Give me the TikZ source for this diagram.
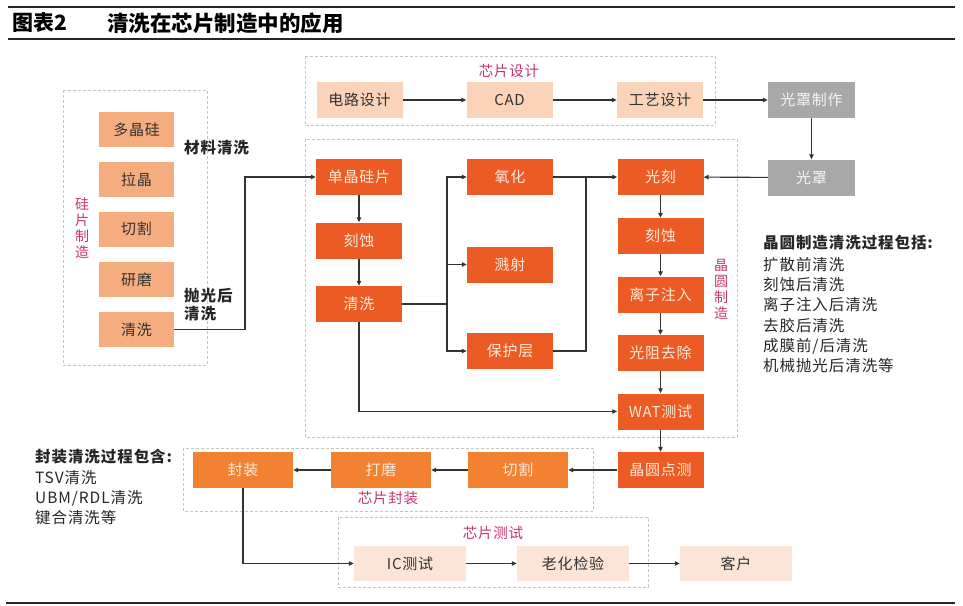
\documentclass[tikz,border=0pt]{standalone}
\usepackage{fontspec}
\setmainfont{Noto Sans CJK SC}
\newfontfamily\spaced[LetterSpace=5]{Noto Sans CJK SC}
\newfontfamily\spacedl[LetterSpace=6]{Noto Sans CJK SC}
\usetikzlibrary{arrows.meta}
\definecolor{lor}{HTML}{F5AD80}
\definecolor{pch}{HTML}{FAD3B9}
\definecolor{org}{HTML}{EC5B24}
\definecolor{yor}{HTML}{F28232}
\definecolor{gry}{HTML}{A8A8A8}
\definecolor{wpc}{HTML}{FCE4D6}
\definecolor{pnk}{HTML}{C8336E}
\definecolor{dsh}{HTML}{C4C4C4}
\definecolor{ink}{HTML}{333333}
\definecolor{crm}{HTML}{FDE9D9}
\begin{document}
\begin{tikzpicture}[x=1pt,y=-1pt,
  font=\spaced\fontsize{15}{18}\selectfont,
  bx/.style={inner sep=0pt, draw=none},
  lbox/.style={bx, fill=lor, text=ink, minimum width=75pt, minimum height=35pt},
  pbox/.style={bx, fill=pch, text=ink, minimum width=86pt, minimum height=36pt},
  obox/.style={bx, fill=org, text=crm, minimum width=86pt, minimum height=36pt},
  gbox/.style={bx, fill=gry, text=white!92!gray, minimum width=87pt, minimum height=36pt},
  ybox/.style={bx, fill=yor, text=crm, minimum width=100pt, minimum height=36pt},
  wbox/.style={bx, fill=wpc, text=ink, minimum width=112pt, minimum height=35pt},
  grp/.style={draw=dsh, dash pattern=on 3pt off 2pt, line width=0.8pt},
  lbl/.style={text=pnk, inner sep=0pt, font=\spaced\fontsize{14.5}{16}\selectfont},
  vlbl/.style={lbl, align=center, font=\spaced\fontsize{14}{16}\selectfont},
  cn/.style={draw=ink, line width=1.1pt},
  arr/.style={cn, -{Triangle[length=5pt,width=4.5pt]}},
  note/.style={anchor=west, inner sep=0pt, text=black!85, font=\spacedl\fontsize{15.5}{18}\selectfont},
  bnote/.style={note, font=\spacedl\fontsize{15.5}{18}\selectfont\bfseries}
]
\useasboundingbox (0,0) rectangle (963,605);
% rules and title
\draw[line width=1.5pt, black!85] (8,7) -- (955,7);
\draw[line width=1.5pt, black!85] (8,39) -- (955,39);
\draw[line width=2.5pt, black!85] (6,603) -- (955,603);
\node[anchor=west, inner sep=0pt, font=\fontsize{21}{24}\selectfont\bfseries] (t1) at (12,23) {图表2};
\node[anchor=west, inner sep=0pt, font=\fontsize{21.5}{24}\selectfont\bfseries] (t2) at (107,23) {清洗在芯片制造中的应用};

% group frames
\draw[grp] (63,90) rectangle (207,365);
\draw[grp] (305,56) rectangle (715,125);
\draw[grp] (305,139) rectangle (737,437);
\draw[grp] (183,448) rectangle (593,511);
\draw[grp] (338,517) rectangle (648,587);

% group labels
\node[vlbl] (gl1) at (82,228) {硅\\片\\制\\造};
\node[lbl] (gl2) at (509,71) {芯片设计};
\node[vlbl] (gl3) at (721,289) {晶\\圆\\制\\造};
\node[lbl] (gl4) at (388,498) {芯片封装};
\node[lbl] (gl5) at (493,533) {芯片测试};

% left column
\node[lbox] (a1) at (136.5,129.5) {多晶硅};
\node[lbox] (a2) at (136.5,179.5) {拉晶};
\node[lbox] (a3) at (136.5,229) {切割};
\node[lbox] (a4) at (136.5,279.5) {研磨};
\node[lbox] (a5) at (136.5,329.5) {清洗};
\node[bnote] (n1) at (184,148) {材料清洗};
\node[bnote, align=left] (n2) at (184,305) {抛光后\\清洗};

% top row
\node[pbox] (d1) at (359.5,100) {电路设计};
\node[pbox] (d2) at (509.5,100) {CAD};
\node[pbox] (d3) at (660,100) {工艺设计};
\node[gbox] (m1) at (811.5,100) {光罩制作};
\node[gbox] (m2) at (811.5,177.5) {光罩};

% wafer fab
\node[obox] (w1) at (359,177) {单晶硅片};
\node[obox] (w2) at (359,240.5) {刻蚀};
\node[obox] (w3) at (359,304) {清洗};
\node[obox] (x1) at (510,177) {氧化};
\node[obox] (x2) at (510,264.5) {溅射};
\node[obox] (x3) at (510,351) {保护层};
\node[obox] (p1) at (660.5,177) {光刻};
\node[obox] (p2) at (660.5,236) {刻蚀};
\node[obox] (p3) at (660.5,294.5) {离子注入};
\node[obox] (p4) at (660.5,353) {光阻去除};
\node[obox] (p5) at (660.5,411.5) {WAT测试};
\node[obox] (p6) at (660.5,470) {晶圆点测};

% packaging
\node[ybox] (k1) at (518,470) {切割};
\node[ybox] (k2) at (381,470) {打磨};
\node[ybox] (k3) at (243,470) {封装};

% test
\node[wbox] (s1) at (410,563.5) {IC测试};
\node[wbox] (s2) at (573,563.5) {老化检验};
\node[wbox] (s3) at (736,563.5) {客户};

% notes
\node[bnote] (r0) at (763,243) {晶圆制造清洗过程包括:};
\node[note] (r1) at (763,264.5) {扩散前清洗};
\node[note] (r2) at (763,285) {刻蚀后清洗};
\node[note] (r3) at (763,305) {离子注入后清洗};
\node[note] (r4) at (763,325.5) {去胶后清洗};
\node[note] (r5) at (763,346) {成膜前/后清洗};
\node[note] (r6) at (763,366) {机械抛光后清洗等};

\node[bnote] (b0) at (35,457) {封装清洗过程包含:};
\node[note] (b1) at (35,478) {TSV清洗};
\node[note] (b2) at (35,498) {UBM/RDL清洗};
\node[note] (b3) at (35,518) {键合清洗等};

% connectors
\coordinate (j1) at (245,329.5);
\draw[arr] (a5.east) -- (j1) |- (w1.west);
\draw[arr] (d1) -- (d2);
\draw[arr] (d2) -- (d3);
\draw[arr] (d3) -- (m1);
\draw[arr] (m1) -- (m2);
\draw[arr] (m2) -- (p1);
\draw[arr] (w1) -- (w2);
\draw[arr] (w2) -- (w3);
\coordinate (br) at (447,304);
\draw[cn] (w3.east) -- (br);
\draw[arr] (br) |- (x1.west);
\draw[arr] (br) |- (x2.west);
\draw[arr] (br) |- (x3.west);
\draw[arr] (x1) -- (p1);
\coordinate (mg) at (586,177);
\draw[cn] (x3.east) -| (mg);
\draw[arr] (w3.south) |- (p5.west);
\draw[arr] (p1) -- (p2);
\draw[arr] (p2) -- (p3);
\draw[arr] (p3) -- (p4);
\draw[arr] (p4) -- (p5);
\draw[arr] (p5) -- (p6);
\draw[arr] (p6) -- (k1);
\draw[arr] (k1) -- (k2);
\draw[arr] (k2) -- (k3);
\draw[arr] (k3.south) |- (s1.west);
\draw[arr] (s1) -- (s2);
\draw[arr] (s2) -- (s3);
\end{tikzpicture}
\end{document}
